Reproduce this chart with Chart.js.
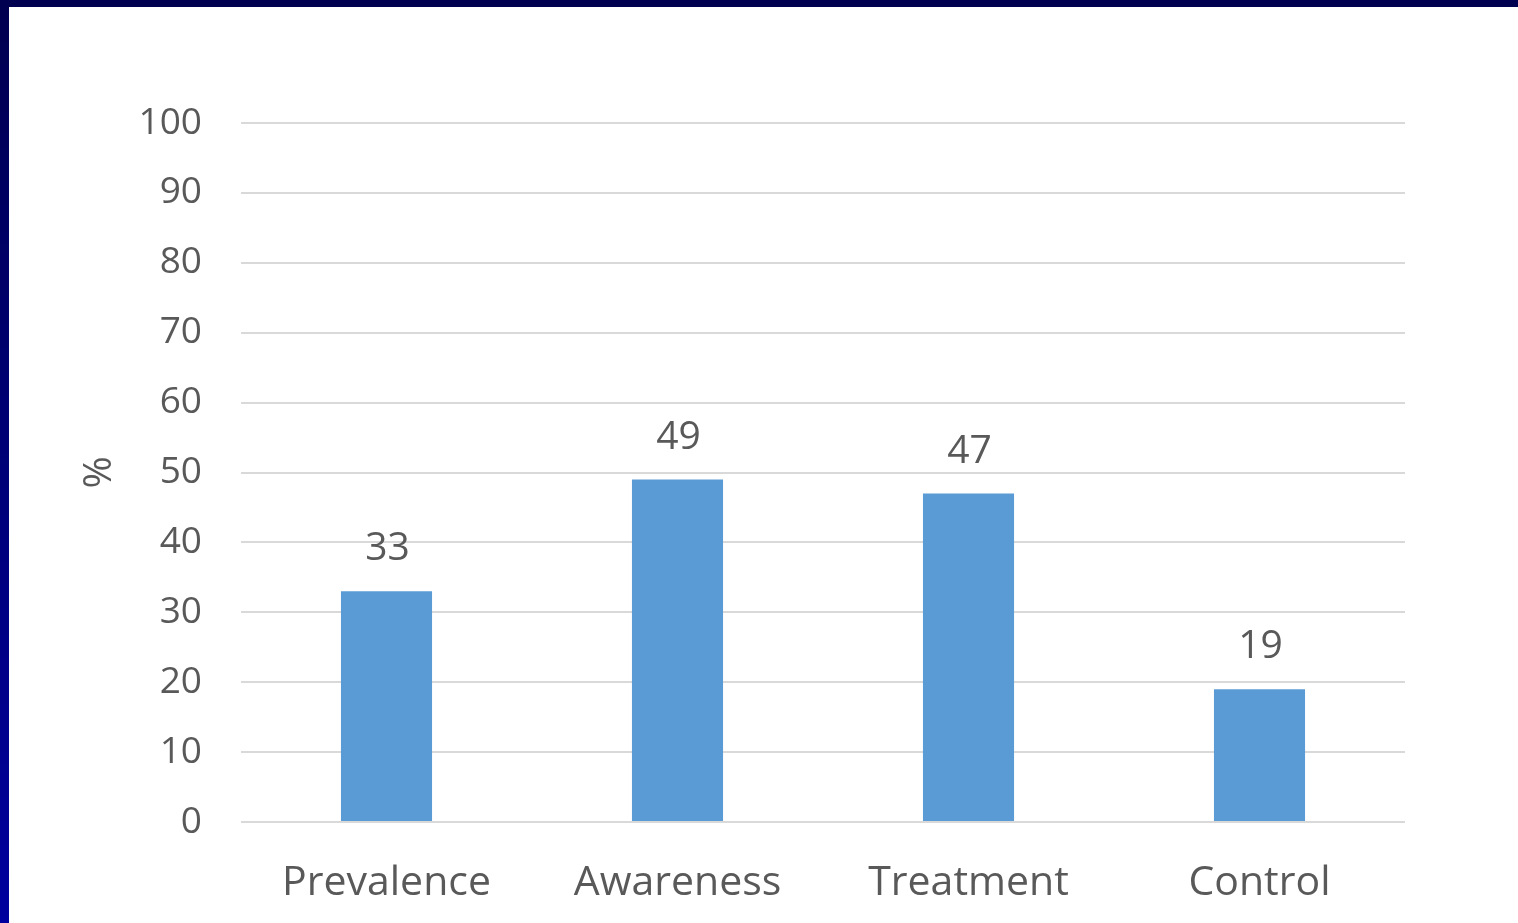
<!DOCTYPE html>
<html>
<head>
<meta charset="utf-8">
<title>Hypertension</title>
<script src="https://cdn.jsdelivr.net/npm/chart.js@4.4.1/dist/chart.umd.min.js"></script>
<style>
  html, body { margin: 0; padding: 0; background: #ffffff; overflow: hidden; }
  #wrap { position: relative; width: 1518px; height: 923px; }
  #topBar { position: absolute; left: 0; top: 0; width: 1518px; height: 7px; background: #000050; }
  #leftBar { position: absolute; left: 0; top: 0; width: 9px; height: 923px;
             background: linear-gradient(#000050, #00009e); }
  canvas { position: absolute; left: 0; top: 0; }
</style>
</head>
<body>
<div id="wrap">
  <canvas id="htnChart" width="1518" height="923"></canvas>
  <div id="topBar"></div>
  <div id="leftBar"></div>
</div>
<script>
const categories = ['Prevalence', 'Awareness', 'Treatment', 'Control'];
const percentValues = [33, 49, 47, 19];
const yTicks = [0, 10, 20, 30, 40, 50, 60, 70, 80, 90, 100];

const textGrey = '#595959';

// value numbers above each bar
const valueLabels = {
	id: 'valueLabels',
	afterDatasetsDraw(chart) {
		const ctx = chart.ctx;
		const meta = chart.getDatasetMeta(0);
		ctx.save();
		ctx.font = '39px "Open Sans"';
		ctx.fillStyle = textGrey;
		ctx.textAlign = 'center';
		ctx.textBaseline = 'middle';
		meta.data.forEach(function (bar, i) {
			ctx.fillText(String(chart.data.datasets[0].data[i]), bar.x + 1, bar.y - 42);
		});
		ctx.restore();
	}
};

const ctx = document.getElementById('htnChart').getContext('2d');
const myChart = new Chart(ctx, {
	type: 'bar',
	data: {
		labels: categories,
		datasets: [
			{
				data: percentValues,
				backgroundColor: '#5b9bd5',
				borderWidth: 0,
				categoryPercentage: 1,
				barPercentage: 0.313
			}
		]
	},
	options: {
		responsive: false,
		animation: false,
		layout: { padding: { left: 76, top: 123, right: 113, bottom: 0 } },
		plugins: {
			legend: { display: false },
			tooltip: { enabled: false }
		},
		scales: {
			x: {
				grid: { display: false, drawTicks: false },
				border: { display: false },
				ticks: {
					color: textGrey,
					font: { family: 'Open Sans', size: 41 },
					padding: 37,
					maxRotation: 0
				},
				afterFit(scale) { scale.height = 101; }
			},
			y: {
				min: 0,
				max: 100,
				afterBuildTicks(scale) {
					scale.ticks = yTicks.map(v => ({ value: v }));
				},
				grid: { color: '#d9d9d9', lineWidth: 2, drawTicks: false },
				border: { display: false },
				ticks: {
					color: textGrey,
					font: { family: 'Open Sans', size: 37 },
					padding: 39
				},
				title: {
					display: true,
					text: '%',
					color: textGrey,
					font: { family: 'Open Sans', size: 39 },
					padding: 0
				},
				afterFit(scale) { scale.width = 165; }
			}
		}
	},
	plugins: [valueLabels]
});
</script>
</body>
</html>
